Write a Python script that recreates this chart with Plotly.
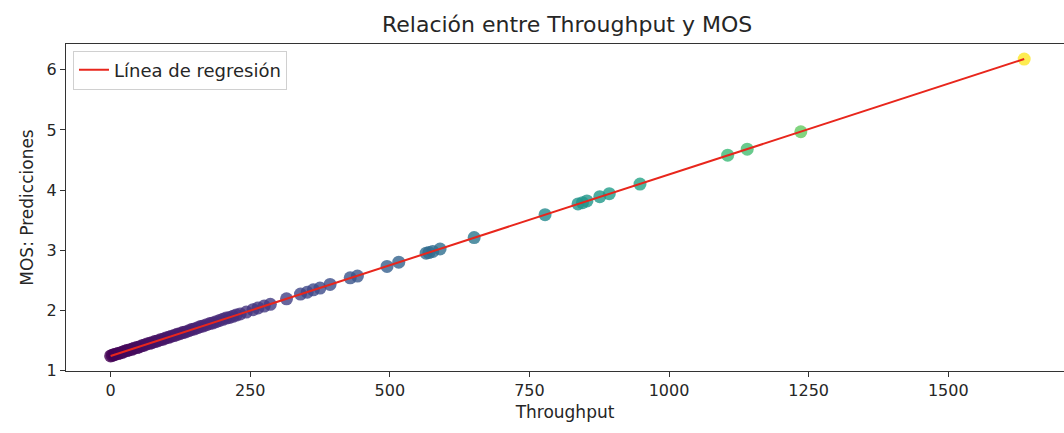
import plotly.graph_objects as go

throughput = [0, 3, 6, 9, 13, 17, 21, 25, 29, 33, 38, 42, 47, 51, 56, 60, 65, 70, 74, 79,
              84, 89, 94, 99, 104, 109, 114, 119, 124, 129, 134, 140, 145, 150, 156, 161,
              166, 172, 178, 183, 189, 195, 201, 207, 213, 219, 225, 232,
              243, 255, 264, 275, 286, 315, 340, 352, 363, 375, 393, 429, 442, 495, 516,
              565, 570, 577, 590, 651, 778, 837, 845, 853, 876, 893, 948, 1105, 1140, 1236, 1636]
mos_pred = [1.24, 1.25, 1.26, 1.27, 1.28, 1.29, 1.30, 1.32, 1.33, 1.34, 1.35, 1.37, 1.38, 1.39,
            1.41, 1.42, 1.44, 1.45, 1.46, 1.48, 1.49, 1.51, 1.52, 1.54, 1.55, 1.57, 1.58, 1.60,
            1.61, 1.63, 1.64, 1.66, 1.68, 1.69, 1.71, 1.73, 1.74, 1.76, 1.78, 1.79, 1.81, 1.83,
            1.85, 1.87, 1.88, 1.90, 1.92, 1.94,
            1.97, 2.01, 2.04, 2.07, 2.10, 2.19, 2.27, 2.30, 2.34, 2.37, 2.43, 2.54, 2.57, 2.73,
            2.80, 2.95, 2.96, 2.98, 3.02, 3.21, 3.59, 3.77, 3.79, 3.82, 3.89, 3.94, 4.10, 4.58,
            4.68, 4.97, 6.18]
reg_x = [0, 1636]
reg_y = [1.24, 6.18]

FONT = "DejaVu Sans"
fig = go.Figure()
fig.add_trace(go.Scatter(
    x=throughput, y=mos_pred, mode="markers", showlegend=False,
    marker=dict(size=13, color=mos_pred, colorscale="Viridis",
                cmin=min(mos_pred), cmax=max(mos_pred), opacity=0.8,
                line=dict(width=0)),
))
fig.add_trace(go.Scatter(
    x=reg_x, y=reg_y, mode="lines", name="Línea de regresión",
    line=dict(color="#e8261c", width=2),
))

fig.update_layout(
    width=1064, height=433,
    margin=dict(l=66, r=0, t=44, b=62),
    paper_bgcolor="white", plot_bgcolor="white",
    font=dict(family=FONT, size=16, color="#262626"),
    title=dict(text="Relación entre Throughput y MOS", x=0.533, xanchor="center",
               y=0.945, yanchor="middle", font=dict(size=22, color="#262626")),
    showlegend=True,
    legend=dict(x=0.007, y=0.98, xanchor="left", yanchor="top",
                bgcolor="rgba(255,255,255,0.8)", bordercolor="#d0d0d0", borderwidth=1,
                font=dict(size=18)),
    xaxis=dict(range=[-79.9, 1707.3], tickvals=[0, 250, 500, 750, 1000, 1250, 1500],
               ticks="outside", ticklen=5, tickcolor="#333", showgrid=False, zeroline=False,
               showline=True, linecolor="#333", linewidth=1.2, mirror=True,
               title=dict(text="Throughput", font=dict(size=17), standoff=6)),
    yaxis=dict(range=[0.99, 6.43], tickvals=[1, 2, 3, 4, 5, 6],
               ticks="outside", ticklen=5, tickcolor="#333", showgrid=False, zeroline=False,
               showline=True, linecolor="#333", linewidth=1.2,
               title=dict(text="MOS: Predicciones", font=dict(size=17), standoff=8)),
)

fig.write_html("out.html")
